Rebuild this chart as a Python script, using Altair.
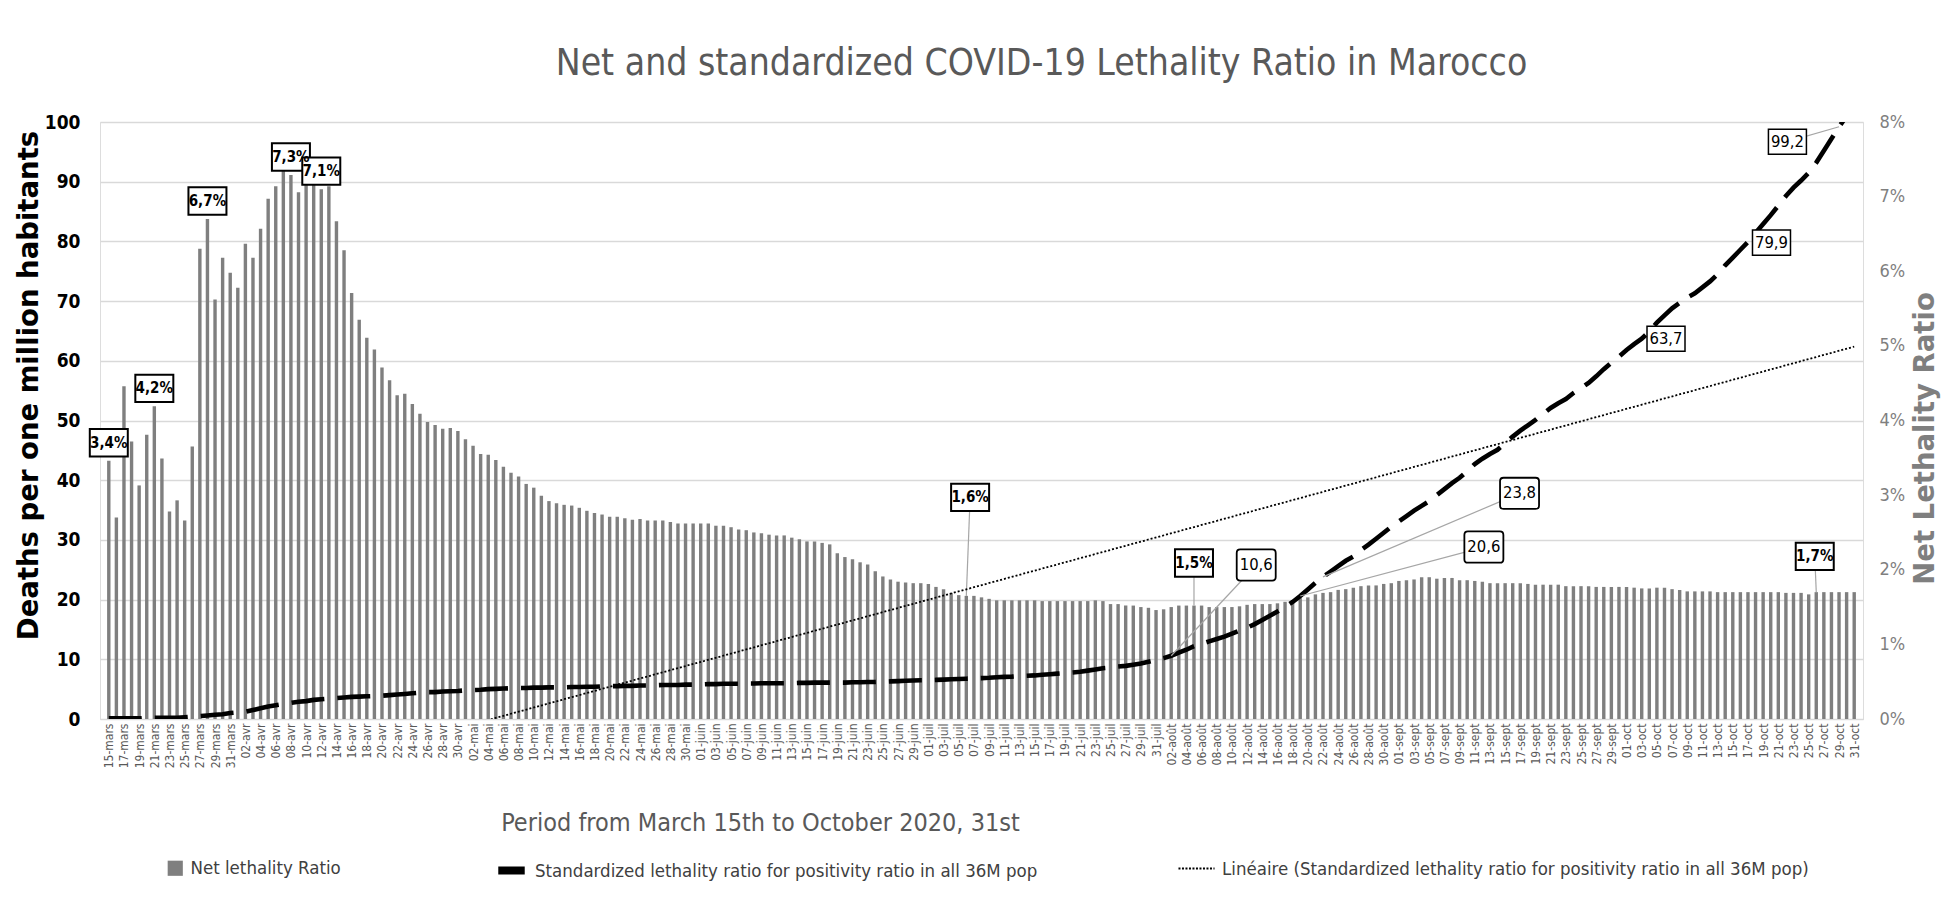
import altair as alt
import pandas as pd

# ---------------- data ----------------
months = [("mars", 15, 31), ("avr", 1, 30), ("mai", 1, 31), ("juin", 1, 30),
          ("juil", 1, 31), ("août", 1, 31), ("sept", 1, 30), ("oct", 1, 31)]
day_labels = [f"{d:02d}-{m}" for m, a, b in months for d in range(a, b + 1)]

# Net lethality ratio (%), one bar per day
net_pct = [
    3.46, 2.70, 4.46, 3.72, 3.13, 3.81, 4.19, 3.49, 2.78, 2.93,
    2.66, 3.65, 6.30, 6.70, 5.62, 6.18, 5.98, 5.78, 6.37, 6.18,
    6.57, 6.97, 7.14, 7.38, 7.29, 7.06, 7.36, 7.18, 7.10, 7.14,
    6.67, 6.28, 5.71, 5.35, 5.11, 4.95, 4.71, 4.54, 4.34, 4.36,
    4.22, 4.09, 3.98, 3.94, 3.89, 3.90, 3.86, 3.75, 3.66, 3.55,
    3.54, 3.47, 3.38, 3.30, 3.25, 3.15, 3.10, 2.99, 2.92, 2.89,
    2.87, 2.86, 2.83, 2.79, 2.76, 2.74, 2.71, 2.71, 2.69, 2.67,
    2.68, 2.66, 2.66, 2.66, 2.64, 2.62, 2.62, 2.62, 2.62, 2.62,
    2.59, 2.59, 2.57, 2.54, 2.53, 2.50, 2.49, 2.47, 2.46, 2.46,
    2.43, 2.41, 2.38, 2.38, 2.36, 2.34, 2.22, 2.17, 2.14, 2.10,
    2.07, 1.98, 1.91, 1.87, 1.84, 1.83, 1.82, 1.82, 1.81, 1.77,
    1.74, 1.69, 1.66, 1.65, 1.65, 1.63, 1.61, 1.59, 1.59, 1.59,
    1.59, 1.59, 1.59, 1.58, 1.58, 1.58, 1.58, 1.58, 1.58, 1.58,
    1.59, 1.58, 1.54, 1.54, 1.52, 1.52, 1.50, 1.49, 1.46, 1.47,
    1.50, 1.52, 1.52, 1.52, 1.52, 1.50, 1.50, 1.50, 1.50, 1.51,
    1.53, 1.54, 1.54, 1.54, 1.55, 1.57, 1.59, 1.62, 1.63, 1.67,
    1.69, 1.70, 1.73, 1.74, 1.76, 1.78, 1.79, 1.79, 1.81, 1.82,
    1.85, 1.86, 1.87, 1.90, 1.90, 1.88, 1.89, 1.89, 1.86, 1.86,
    1.85, 1.84, 1.82, 1.82, 1.82, 1.82, 1.82, 1.81, 1.80, 1.80,
    1.80, 1.80, 1.78, 1.78, 1.78, 1.78, 1.77, 1.77, 1.77, 1.77,
    1.77, 1.76, 1.75, 1.75, 1.76, 1.76, 1.74, 1.73, 1.71, 1.71,
    1.71, 1.71, 1.70, 1.70, 1.70, 1.70, 1.70, 1.70, 1.70, 1.70,
    1.70, 1.69, 1.69, 1.69, 1.67, 1.70, 1.70, 1.70, 1.70, 1.70,
    1.70,
]

# Standardized lethality ratio (deaths per one million habitants)
std_ratio = [
    0.1, 0.1, 0.1, 0.1, 0.1, 0.2, 0.2, 0.2, 0.2, 0.2,
    0.3, 0.4, 0.5, 0.6, 0.7, 0.8, 1.0, 1.1, 1.2, 1.5,
    1.8, 2.1, 2.3, 2.5, 2.7, 2.9, 3.0, 3.2, 3.3, 3.4,
    3.5, 3.6, 3.7, 3.75, 3.8, 3.85, 3.9, 4.0, 4.1, 4.2,
    4.3, 4.4, 4.5, 4.5, 4.6, 4.65, 4.7, 4.8, 4.85, 4.9,
    5.0, 5.05, 5.1, 5.15, 5.2, 5.2, 5.25, 5.25, 5.3, 5.3,
    5.3, 5.35, 5.35, 5.4, 5.4, 5.45, 5.5, 5.5, 5.55, 5.55,
    5.6, 5.6, 5.65, 5.7, 5.7, 5.7, 5.75, 5.75, 5.8, 5.85,
    5.85, 5.9, 5.9, 5.9, 5.95, 5.95, 6.0, 6.0, 6.0, 6.0,
    6.0, 6.05, 6.05, 6.1, 6.1, 6.1, 6.1, 6.1, 6.15, 6.15,
    6.2, 6.2, 6.25, 6.3, 6.35, 6.4, 6.45, 6.5, 6.5, 6.55,
    6.6, 6.65, 6.7, 6.75, 6.8, 6.85, 6.9, 7.0, 7.05, 7.1,
    7.2, 7.25, 7.3, 7.4, 7.5, 7.6, 7.7, 7.8, 7.9, 8.1,
    8.3, 8.5, 8.6, 8.8, 8.9, 9.1, 9.3, 9.6, 9.9, 10.2,
    10.6, 11.1, 11.6, 12.2, 12.6, 13.0, 13.4, 13.8, 14.3, 14.8,
    15.3, 15.9, 16.6, 17.3, 18.0, 18.8, 19.6, 20.6, 21.7, 22.8,
    23.8, 24.7, 25.6, 26.5, 27.2, 28.3, 29.2, 30.2, 31.2, 32.2,
    33.1, 34.0, 34.9, 35.7, 36.5, 37.5, 38.5, 39.5, 40.4, 41.5,
    42.7, 43.6, 44.4, 45.1, 46.2, 47.3, 48.3, 49.2, 50.1, 51.1,
    52.1, 52.9, 53.6, 54.6, 55.4, 56.3, 57.4, 58.6, 59.7, 60.7,
    61.8, 62.8, 63.7, 64.9, 66.4, 67.6, 68.8, 69.7, 70.6, 71.3,
    72.3, 73.3, 74.5, 76.0, 77.3, 78.6, 79.9, 81.4, 82.9, 84.4,
    86.0, 87.6, 89.0, 90.2, 91.5, 93.2, 95.2, 97.2, 99.2, 101.0,
    102.8,
]

S_BAR = "Net lethality Ratio"
S_LINE = "Standardized lethality ratio for positivity ratio in all 36M pop"
S_TREND = "Linéaire (Standardized lethality ratio for positivity ratio in all 36M pop)"

# data labels on bars
top_lab_idx = [0, 6, 13, 24, 28]
top_lab_txt = ["3,4%", "4,2%", "6,7%", "7,3%", "7,1%"]

lead_pct_txt = ["1,6%", "1,5%", "1,7%"]
lead_pct_idx = [113, 143, 225]
lead_pct_lx = [113.5, 143.0, 224.8]
lead_pct_ly = [2.97, 2.09, 2.18]

# data labels on the standardized line
val_txt = ["10,6", "20,6", "23,8", "63,7", "79,9", "99,2"]
val_idx = [140, 157, 160, 202, 216, 228]
val_lx = [151.2, 181.2, 185.9, 205.2, 219.1, 221.2]
val_ly = [25.8, 28.8, 37.8, 63.7, 79.8, 96.7]
val_round = [True, True, True, False, False, False]
val_lead = [True, True, True, False, False, True]

# ---------------- frames ----------------
n = len(day_labels)
df = pd.DataFrame({
    "idx": list(range(n)),
    "day": day_labels,
    "pct": net_pct,
    "std": std_ratio,
    "s_bar": [S_BAR] * n,
    "s_line": [S_LINE] * n,
})
top_df = pd.DataFrame({"idx": top_lab_idx, "pct": [net_pct[i] for i in top_lab_idx],
                       "txt": top_lab_txt})
lead_df = pd.DataFrame({"ai": lead_pct_idx, "av": [net_pct[i] for i in lead_pct_idx],
                        "lx": lead_pct_lx, "ly": lead_pct_ly, "txt": lead_pct_txt})
val_df = pd.DataFrame({"ai": val_idx, "av": [std_ratio[i] for i in val_idx],
                       "lx": val_lx, "ly": val_ly, "txt": val_txt,
                       "rnd": val_round, "lead": val_lead})

# ---------------- style ----------------
NARROW = "Liberation Sans Narrow, DejaVu Sans Condensed, Roboto Condensed, Arial Narrow, Liberation Sans, sans-serif"
BOLDF = "DejaVu Sans, Verdana, sans-serif"
GRID = "#d9d9d9"
W, H = 1763, 597

label_expr = "[" + ",".join("'" + d + "'" for d in day_labels) + "][datum.value]"

xscale = alt.Scale(domain=[-0.5, n - 0.5], nice=False, zero=False)
xaxis = alt.Axis(values=list(range(0, n, 2)), labelExpr=label_expr, labelAngle=270,
                 labelFont=NARROW, labelFontSize=12, labelColor="#595959",
                 labelPadding=4, labelOverlap=False, labelFlush=False, labelBound=False,
                 grid=False, domain=True, domainColor=GRID, domainWidth=1.2,
                 ticks=False,
                 title="Period from March 15th to October 2020, 31st",
                 titleFont=NARROW, titleFontSize=25, titleFontWeight="normal",
                 titleColor="#595959", titleX=660, titleY=103,
                 titleAlign="center", titleBaseline="middle")


def X(field="idx"):
    return alt.X(field, type="quantitative", scale=xscale, axis=xaxis)


rscale = alt.Scale(domain=[0, 8], nice=False, zero=True)
raxis = alt.Axis(orient="right", values=list(range(0, 9)), labelExpr="datum.value + '%'",
                 labelFont=NARROW, labelFontSize=18, labelColor="#7f7f7f", labelPadding=16,
                 grid=False, domain=False, ticks=False,
                 title="Net Lethality Ratio", titleFont=BOLDF, titleFontSize=27.5,
                 titleFontWeight="bold", titleColor="#7f7f7f", titleAngle=270,
                 titleX=62, titleY=316, titleAlign="center", titleBaseline="middle")

lscale = alt.Scale(domain=[0, 100], nice=False, zero=True)
laxis = alt.Axis(orient="left", values=list(range(0, 101, 10)),
                 labelFont=NARROW, labelFontSize=19, labelFontWeight="bold",
                 labelColor="black", labelPadding=20,
                 grid=True, gridColor=GRID, gridWidth=1.3, domain=False, ticks=False,
                 title="Deaths per one million habitants", titleFont=BOLDF,
                 titleFontSize=27.5, titleFontWeight="bold", titleColor="black",
                 titleAngle=270, titleX=-71, titleY=263,
                 titleAlign="center", titleBaseline="middle")


def YR(field):
    return alt.Y(field, type="quantitative", scale=rscale, axis=raxis)


def YL(field):
    return alt.Y(field, type="quantitative", scale=lscale, axis=laxis)


BOX = "M-1,-0.72L1,-0.72L1,0.72L-1,0.72Z"
SBOX = "M-1,-0.66L1,-0.66L1,0.66L-1,0.66Z"
RBOX = ("M-0.82,-0.8L0.82,-0.8Q1,-0.8 1,-0.62L1,0.62Q1,0.8 0.82,0.8"
        "L-0.82,0.8Q-1,0.8 -1,0.62L-1,-0.62Q-1,-0.8 -0.82,-0.8Z")

LEG = dict(orient="none", title=None, labelFont=NARROW, labelFontSize=18.5,
           labelColor="#404040", labelOffset=6, labelLimit=0)

# ---------------- right-axis layers (bars) ----------------
bars = alt.Chart(df).mark_bar(size=3.4).encode(
    x=X(), y=YR("pct"),
    color=alt.Color("s_bar:N", scale=alt.Scale(domain=[S_BAR], range=["#7f7f7f"]),
                    legend=alt.Legend(legendX=66, legendY=737, symbolType="square",
                                      symbolSize=230, **LEG)),
)
top_box = alt.Chart(top_df).mark_point(shape=BOX, size=1444, filled=True, fill="white",
                                       stroke="black", strokeWidth=2, opacity=1,
                                       yOffset=-18).encode(x=X(), y=YR("pct"))
top_txt = alt.Chart(top_df).mark_text(font=NARROW, fontSize=15, fontWeight="bold",
                                      color="black", yOffset=-18, baseline="middle").encode(
    x=X(), y=YR("pct"), text="txt:N")
lead_rule = alt.Chart(lead_df).mark_rule(color="#a6a6a6", strokeWidth=1.2).encode(
    x=X("ai"), x2="lx", y=YR("av"), y2="ly")
lead_box = alt.Chart(lead_df).mark_point(shape=BOX, size=1444, filled=True, fill="white",
                                         stroke="black", strokeWidth=2, opacity=1).encode(
    x=X("lx"), y=YR("ly"))
lead_txt = alt.Chart(lead_df).mark_text(font=NARROW, fontSize=15, fontWeight="bold",
                                        color="black", baseline="middle").encode(
    x=X("lx"), y=YR("ly"), text="txt:N")

right = alt.layer(bars, top_box, top_txt, lead_rule, lead_box, lead_txt)

# ---------------- left-axis layers (lines) ----------------
line = alt.Chart(df).mark_line(color="black", strokeWidth=4.6, strokeDash=[33, 13],
                               clip=True).encode(
    x=X(), y=YL("std"),
    color=alt.Color("s_line:N", scale=alt.Scale(domain=[S_LINE], range=["black"]),
                    legend=alt.Legend(legendX=394, legendY=731, symbolType="stroke",
                                      symbolSize=700, symbolStrokeWidth=8,
                                      symbolDash=[40, 0], **LEG)),
)
trend = alt.Chart(df).transform_regression(
    "idx", "std", method="linear", extent=[0, n - 1]
).transform_calculate(series="'" + S_TREND + "'").mark_line(
    color="black", strokeWidth=1.8, strokeDash=[2, 2], clip=True).encode(
    x=X(), y=YL("std"),
    color=alt.Color("series:N", scale=alt.Scale(domain=[S_TREND], range=["black"]),
                    legend=alt.Legend(legendX=1077, legendY=727, symbolType="stroke",
                                      symbolSize=1300, symbolStrokeWidth=2,
                                      symbolDash=[2, 1.5], **LEG)),
)
val_rule = alt.Chart(val_df).transform_filter("datum.lead").mark_rule(
    color="#a6a6a6", strokeWidth=1.2).encode(x=X("ai"), x2="lx", y=YL("av"), y2="ly")
val_box_r = alt.Chart(val_df).transform_filter("datum.rnd").mark_point(
    shape=RBOX, size=1521, filled=True, fill="white", stroke="black", strokeWidth=1.8,
    opacity=1).encode(x=X("lx"), y=YL("ly"))
val_box_s = alt.Chart(val_df).transform_filter("!datum.rnd").mark_point(
    shape=SBOX, size=1444, filled=True, fill="white", stroke="black", strokeWidth=1.5,
    opacity=1).encode(x=X("lx"), y=YL("ly"))
val_txt_m = alt.Chart(val_df).mark_text(font=NARROW, fontSize=16.5, color="black",
                                        baseline="middle").encode(
    x=X("lx"), y=YL("ly"), text="txt:N")

left = alt.layer(line, trend, val_rule, val_box_r, val_box_s, val_txt_m).resolve_scale(
    color="independent")

chart = alt.layer(right, left).resolve_scale(
    y="independent", color="independent"
).properties(
    width=W, height=H,
    autosize=alt.AutoSizeParams(type="none"),
    padding={"left": 92, "top": 114, "right": 82, "bottom": 171},
    title=alt.TitleParams("Net and standardized COVID-19 Lethality Ratio in Marocco",
                          font=NARROW, fontSize=37, fontWeight="normal",
                          color="#595959", anchor="middle", dx=60, offset=30),
).configure_view(stroke=None).configure(background="white")

chart.save("out.html", embed_options={"renderer": "svg", "actions": False})
